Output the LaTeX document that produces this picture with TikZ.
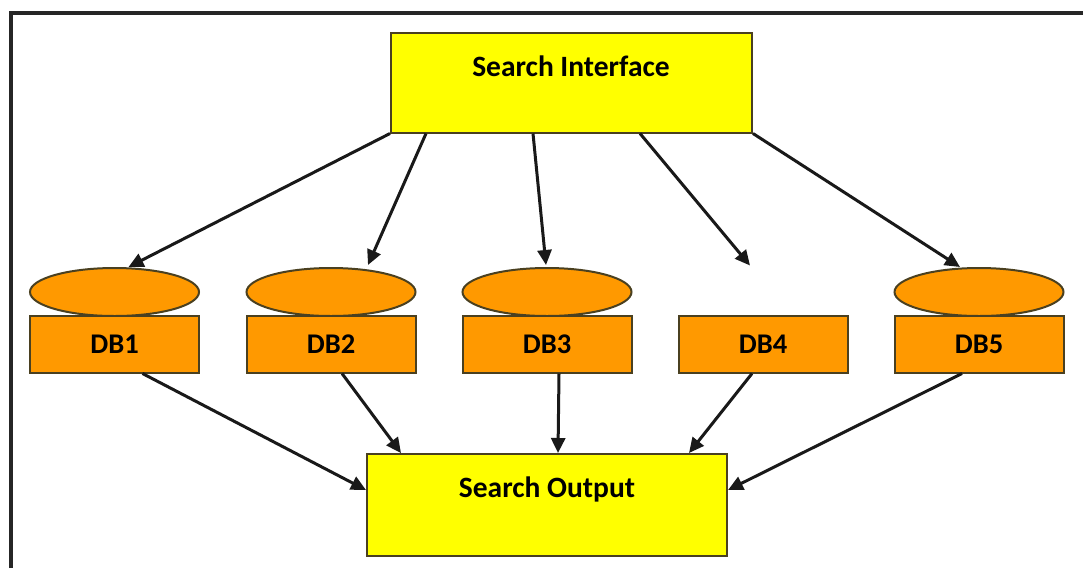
\documentclass[tikz,border=0pt]{standalone}
\usepackage{fontspec}
\setmainfont{Carlito}
\usetikzlibrary{arrows.meta,calc,shapes.geometric}
\definecolor{dbor}{HTML}{FF9900}
\definecolor{sy}{HTML}{FFFF00}
\definecolor{edge}{HTML}{4A4020}
\tikzset{
  ybox/.style={draw=edge, line width=2pt, fill=sy, rectangle, minimum width=361pt, minimum height=100pt, inner sep=0pt},
  dbbox/.style={draw=edge, line width=2pt, fill=dbor, rectangle, minimum width=169pt, minimum height=57pt, inner sep=0pt, font=\fontsize{28.5}{32}\selectfont\bfseries},
  dbell/.style={draw=edge, line width=2pt, fill=dbor, ellipse, minimum width=169pt, minimum height=48pt, inner sep=0pt},
  lbl/.style={font=\fontsize{29.5}{33}\selectfont\bfseries, inner sep=0pt},
  conn/.style={line width=3pt, draw=black!90, -{Triangle[length=15pt,width=14pt]}},
}
\begin{document}
\begin{tikzpicture}[x=1pt,y=-1pt]
\useasboundingbox (0,0) rectangle (1083,568);
\draw[line width=3.5pt, draw=black!85] (11,568) -- (11,13) -- (1083,13);
\node[ybox] (si) at (571.5,82.5) {};
\node[lbl] (sil) at (571,66) {Search Interface};
\node[ybox, minimum width=360pt, minimum height=102pt] (so) at (547,505) {};
\node[lbl] (sol) at (547,489) {Search Output};
\foreach \i/\x in {1/114.5,2/331,3/547,5/979}{
  \node[dbell] (e\i) at (\x,292) {};
}
\foreach \i/\x in {1/114.5,2/331,3/547,4/763,5/979}{
  \node[dbbox] (d\i) at (\x,344) {DB\i};
}
% top connector end points
\coordinate (s1) at (si.south west);
\coordinate (s2) at ($(si.south west)+(36,0)$);
\coordinate (s3) at ($(si.south west)+(143,0)$);
\coordinate (s4) at ($(si.south west)+(250,0)$);
\coordinate (s5) at (si.south east);
\coordinate (t1) at ($(e1.north)+(14,0)$);
\coordinate (t2) at ($(e2.north)+(37,-2)$);
\coordinate (t3) at ($(e3.north)+(-1,-2)$);
\coordinate (t4) at ($(d4.north)+(-13,-49)$);
\coordinate (t5) at ($(e5.north)+(-19,0)$);
\foreach \i in {1,...,5}{ \draw[conn] (s\i) -- (t\i); }
% bottom connectors
\coordinate (b1) at ($(d1.south)+(28,0)$);
\coordinate (b2) at ($(d2.south)+(11,0)$);
\coordinate (b3) at ($(d3.south)+(12,0)$);
\coordinate (b4) at ($(d4.south)+(-11,0)$);
\coordinate (b5) at ($(d5.south)+(-17,0)$);
\coordinate (u1) at ($(so.west)+(0,-15)$);
\coordinate (u2) at ($(so.north west)+(35,0)$);
\coordinate (u3) at ($(so.north west)+(192,0)$);
\coordinate (u4) at ($(so.north west)+(323,0)$);
\coordinate (u5) at ($(so.east)+(0,-15)$);
\foreach \i in {1,...,5}{ \draw[conn] (b\i) -- (u\i); }
\end{tikzpicture}
\end{document}
